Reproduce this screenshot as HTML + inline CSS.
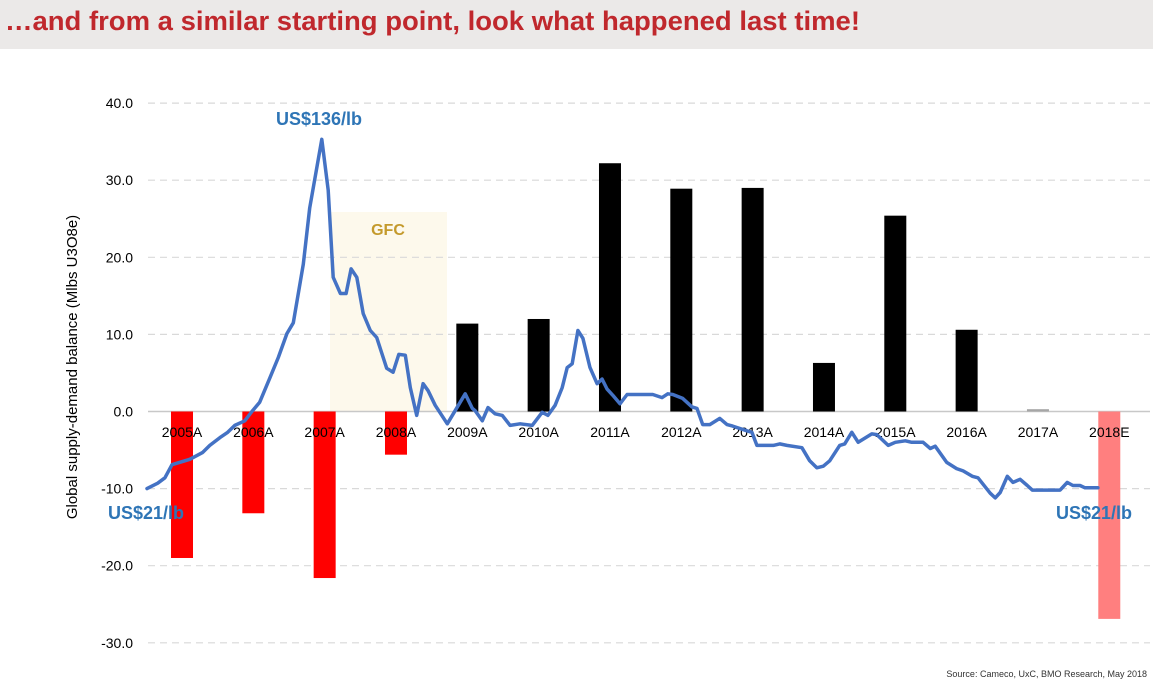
<!DOCTYPE html>
<html><head><meta charset="utf-8">
<style>
html,body{margin:0;padding:0;background:#fff;width:1153px;height:687px;overflow:hidden;font-family:"Liberation Sans",sans-serif;}
</style></head>
<body>
<svg id="chart" width="1153" height="687" viewBox="0 0 1153 687" xmlns="http://www.w3.org/2000/svg">
  <rect x="0" y="0" width="1153" height="49" fill="#ebe9e8"/>
  <text x="5" y="30" font-family="Liberation Sans, sans-serif" font-weight="bold" font-size="27" fill="#c0282d" textLength="855" lengthAdjust="spacingAndGlyphs">…and from a similar starting point, look what happened last time!</text>
  <rect x="330" y="212" width="117" height="199" fill="#fdf9ec"/>
  <text x="388" y="235" text-anchor="middle" font-weight="bold" font-size="16" fill="#c49a2c">GFC</text>
  <g id="grid"></g>
  <g id="bars"></g>
  <g id="cats"></g>
  <g id="line"></g>
  <text transform="translate(77,367) rotate(-90)" text-anchor="middle" font-size="15" fill="#000">Global supply-demand  balance (Mlbs U3O8e)</text>
  <text x="276" y="125" font-weight="bold" font-size="18" fill="#2e75b6">US$136/lb</text>
  <text x="108" y="519" font-weight="bold" font-size="18" fill="#2e75b6">US$21/lb</text>
  <text x="1056" y="519" font-weight="bold" font-size="18" fill="#2e75b6">US$21/lb</text>
  <text x="1147" y="677" text-anchor="end" font-size="9" fill="#333">Source: Cameco, UxC, BMO Research, May 2018</text>
</svg>
<script>
const categories = ["2005A","2006A","2007A","2008A","2009A","2010A","2011A","2012A","2013A","2014A","2015A","2016A","2017A","2018E"];
const balance = [-19.0,-13.2,-21.6,-5.6,11.4,12.0,32.2,28.9,29.0,6.3,25.4,10.6,0.3,-26.9];
const yTicks = [40,30,20,10,0,-10,-20,-30];
const yTickLabels = ["40.0","30.0","20.0","10.0","0.0","-10.0","-20.0","-30.0"];
const lineYear = [2004.51,2004.66,2004.76,2004.86,2005.11,2005.29,2005.39,2005.53,2005.64,2005.74,2005.88,2005.98,2006.09,2006.23,2006.35,2006.47,2006.56,2006.70,2006.79,2006.96,2007.05,2007.12,2007.22,2007.30,2007.37,2007.45,2007.54,2007.64,2007.73,2007.87,2007.96,2008.04,2008.13,2008.20,2008.29,2008.38,2008.45,2008.55,2008.72,2008.97,2009.07,2009.11,2009.21,2009.29,2009.39,2009.49,2009.60,2009.74,2009.91,2010.05,2010.13,2010.23,2010.33,2010.40,2010.47,2010.55,2010.62,2010.72,2010.82,2010.89,2010.96,2011.04,2011.14,2011.24,2011.60,2011.73,2011.81,2011.88,2012.02,2012.15,2012.22,2012.30,2012.40,2012.54,2012.64,2012.72,2012.92,2012.99,2013.06,2013.29,2013.38,2013.48,2013.69,2013.80,2013.90,2013.99,2014.08,2014.22,2014.29,2014.39,2014.48,2014.67,2014.74,2014.90,2015.00,2015.14,2015.23,2015.39,2015.49,2015.56,2015.72,2015.86,2015.95,2016.08,2016.16,2016.33,2016.40,2016.47,2016.57,2016.65,2016.75,2016.85,2016.92,2017.31,2017.41,2017.49,2017.59,2017.66,2017.84];
const lineValue = [-10.0,-9.3,-8.6,-6.9,-6.2,-5.3,-4.4,-3.4,-2.7,-1.8,-1.2,0,1.2,4.3,7.0,10.1,11.5,19.1,26.4,35.3,28.7,17.4,15.3,15.3,18.5,17.4,12.7,10.5,9.6,5.6,5.1,7.4,7.3,3.1,-0.5,3.6,2.7,0.8,-1.6,2.3,0.4,0.1,-1.2,0.5,-0.3,-0.5,-1.8,-1.6,-1.8,-0.1,-0.5,0.8,3.1,5.7,6.2,10.5,9.5,5.7,3.6,4.2,2.9,2.1,1.0,2.2,2.2,1.8,2.3,2.2,1.7,0.6,0.4,-1.7,-1.7,-0.9,-1.7,-1.9,-2.5,-2.7,-4.4,-4.4,-4.2,-4.4,-4.7,-6.4,-7.3,-7.1,-6.4,-4.4,-4.2,-2.7,-4.0,-2.9,-3.0,-4.4,-4.0,-3.8,-4.0,-4.0,-4.8,-4.5,-6.6,-7.4,-7.7,-8.4,-8.6,-10.6,-11.2,-10.5,-8.4,-9.2,-8.8,-9.6,-10.2,-10.2,-9.2,-9.6,-9.6,-9.9,-9.9];

const NS = "http://www.w3.org/2000/svg";
const y0 = 411.5, pxPerUnit = 7.71;
const yScale = v => y0 - v * pxPerUnit;
const firstX = 182, step = 71.33;
const xCat = i => firstX + i * step;
const xYear = yr => firstX + (yr - 2005) * step;
function mk(tag, attrs, parent){const e=document.createElementNS(NS,tag);for(const k in attrs)e.setAttribute(k,attrs[k]);parent.appendChild(e);return e;}

const grid = document.getElementById("grid");
yTicks.forEach((t,i)=>{
  const y = yScale(t);
  const gl = mk("line",{x1:148,x2:1150,y1:y,y2:y,stroke:t===0?"#c8c8c8":"#d9d9d9","stroke-width":t===0?1.5:1.2,"stroke-dasharray":t===0?"none":"7,5"},grid);
  
  
  const tl = mk("text",{x:133,y:y+5,"text-anchor":"end","font-size":14,fill:"#000"},grid);
  tl.textContent = yTickLabels[i];
  
  
});

const bars = document.getElementById("bars");
const cats = document.getElementById("cats");
balance.forEach((v,i)=>{
  const x = xCat(i), y = yScale(Math.max(v,0)), h = Math.abs(v)*pxPerUnit;
  let fill = v < 0 ? "#ff0000" : "#000000";
  if (i === balance.length-1) fill = "#ff7f7f";
  if (Math.abs(v) < 1) fill = "#a6a6a6";
  const r = mk("rect",{x:x-11,y:y,width:22,height:Math.max(h,1.5),fill:fill},bars);
  
  
  const c = mk("text",{x:x,y:437,"text-anchor":"middle","font-size":14,fill:"#000"},cats);
  c.textContent = categories[i];
  
  
});

const lg = document.getElementById("line");
const pts = lineYear.map((yr,i)=>xYear(yr).toFixed(1)+","+yScale(lineValue[i]).toFixed(1)).join(" ");
const pl = mk("polyline",{points:pts,fill:"none",stroke:"#4472c4","stroke-width":3.5,"stroke-linejoin":"round","stroke-linecap":"round"},lg);


</script>
</body></html>
